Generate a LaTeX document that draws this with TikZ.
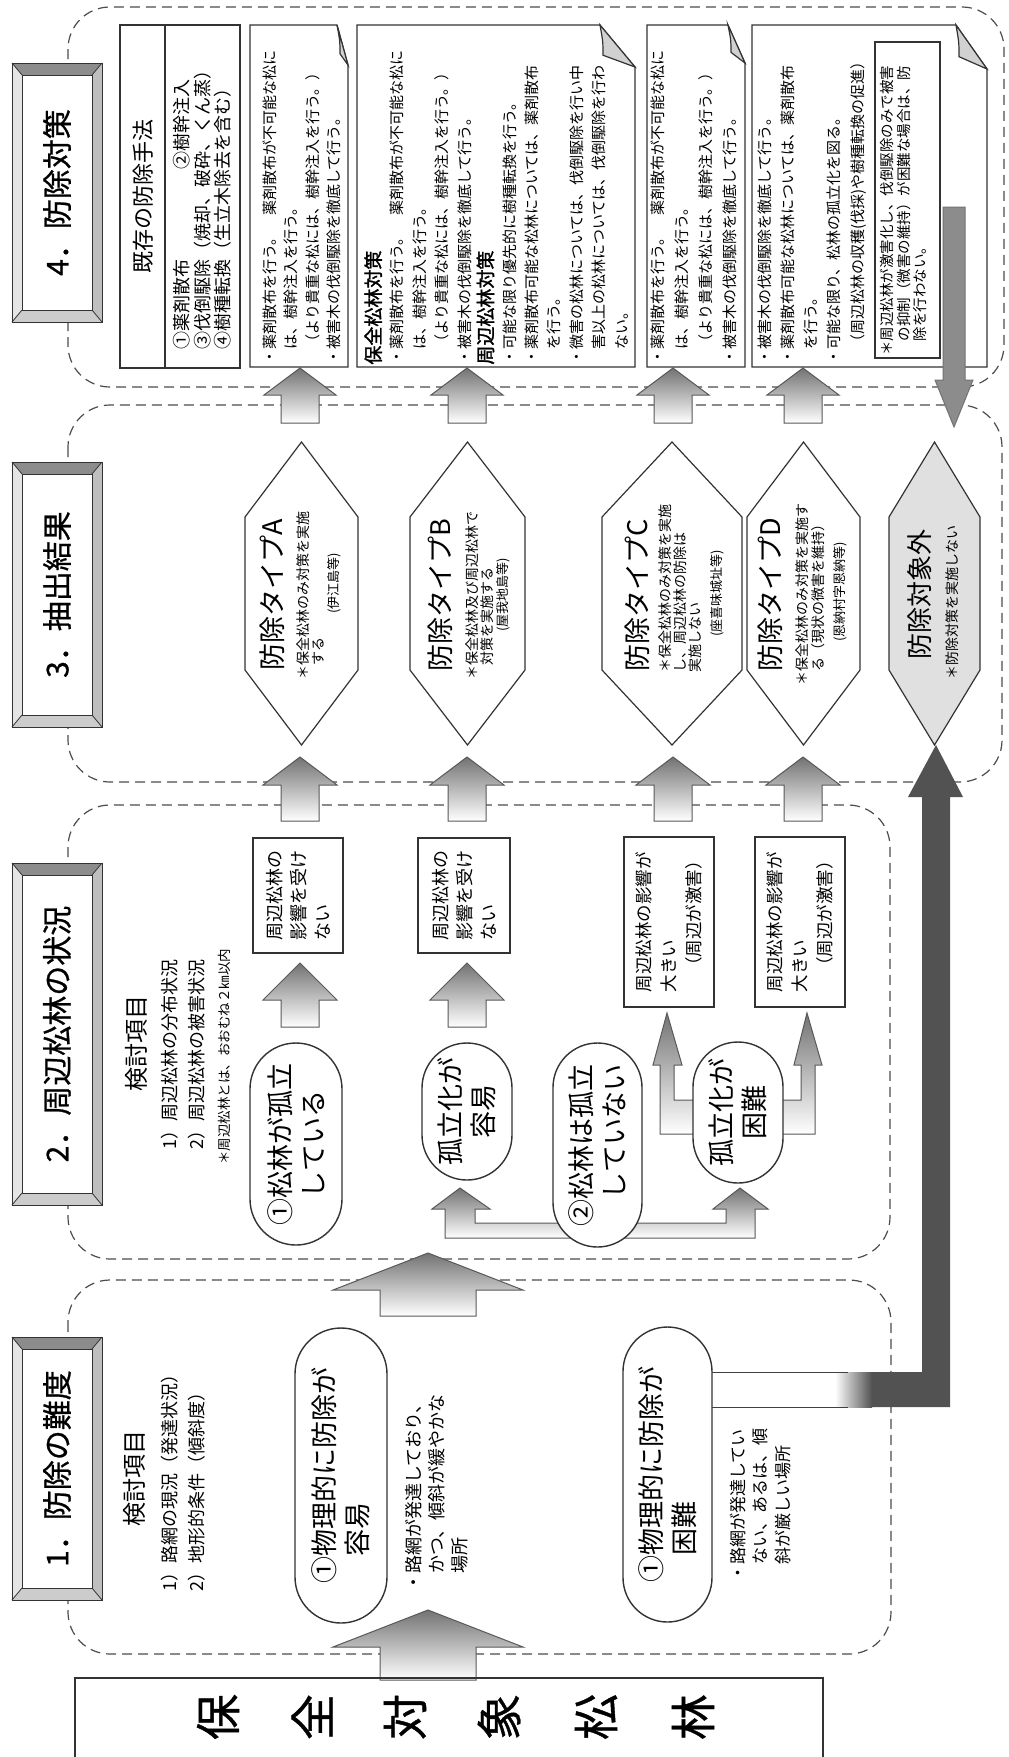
\documentclass[tikz,border=0pt]{standalone}
\usepackage{fontspec}
\setmainfont{Noto Sans CJK JP}
\newfontfamily\jpb[FakeBold=1.5]{Noto Sans CJK JP}
\newfontfamily\jpm[FakeBold=0.8]{Noto Sans CJK JP}
\usetikzlibrary{shapes.misc}
\newcommand\fz[2]{\fontsize{#1pt}{#2pt}\selectfont}
% bevelled title box: name, x1, y1, x2, y2, text
\newcommand\ttlbox[6]{%
  \fill[white] (#2,#3) rectangle (#4,#5);
  \fill[black!45] (#2,#3) -- (#4,#3) -- (#4-10,#3+12) -- (#2+10,#3+12) -- cycle;
  \fill[black!10] (#2,#3) -- (#2+10,#3+12) -- (#2+10,#5-12) -- (#2,#5) -- cycle;
  \fill[black!25] (#4,#3) -- (#4,#5) -- (#4-10,#5-12) -- (#4-10,#3+12) -- cycle;
  \fill[black!20] (#2,#5) -- (#4,#5) -- (#4-10,#5-12) -- (#2+10,#5-12) -- cycle;
  \draw[black!80, line width=0.5pt] (#2,#3) rectangle (#4,#5) (#2+10,#3+12) rectangle (#4-10,#5-12);
  \draw[black!80, line width=0.4pt] (#2,#3) -- (#2+10,#3+12) (#4,#3) -- (#4-10,#3+12) (#2,#5) -- (#2+10,#5-12) (#4,#5) -- (#4-10,#5-12);
  \node[rotate=90, inner sep=0pt, font=\jpm\fz{15}{16}] (#1) at ({(#2+#4)/2},{(#3+#5)/2}) {#6};
}
% note box with folded corner: x1, y1, x2, y2, fold w, fold h
\newcommand\notebox[6]{%
  \draw[boxline, fill=white] (#1,#2) -- (#3-#5,#2) -- (#3,#2+#6) -- (#3,#4) -- (#1,#4) -- cycle;
  \draw[boxline, fill=black!18] (#3-#5,#2) .. controls (#3-#5+3,#2+#6*0.4) .. (#3-#5+3,#2+#6*0.72) -- (#3,#2+#6) -- cycle;
}
% up block arrow: cx, tip y, head base y, bottom y, head half, shaft half
\newcommand\uparr[6]{%
  \path[blockarr] (#1,#2) -- (#1+#5,#3) -- (#1+#6,#3) -- (#1+#6,#4) -- (#1-#6,#4) -- (#1-#6,#3) -- (#1-#5,#3) -- cycle;
}
% hexagon: x1, x2, fill
\newcommand\hexa[3]{%
  \draw[boxline, fill=#3] ({(#1+#2)/2},442) -- (#2,517) -- (#2,670) -- ({(#1+#2)/2},745) -- (#1,670) -- (#1,517) -- cycle;
}
\tikzset{
  region/.style={draw=black!70, line width=0.6pt, dash pattern=on 5pt off 3pt, rounded corners=21pt},
  boxline/.style={draw=black!80, line width=0.6pt},
  blockarr/.style={draw=black!65, line width=0.5pt, top color=black!55, bottom color=white},
  vt/.style={rotate=90, inner sep=0pt, align=left},
  pill/.style={draw=black!80, line width=0.7pt, fill=white, rounded rectangle, rotate=90, inner sep=0pt, align=left, font=\fz{13.5}{16.5}},
  rbox/.style={draw=black!80, line width=0.6pt, fill=white, rotate=90, inner sep=0pt, align=left},
}
\begin{document}
\begin{tikzpicture}[x=0.5pt,y=-0.5pt]
\useasboundingbox (0,0) rectangle (1008,1757);
\fill[white] (0,0) rectangle (1008,1757);

% ---------- dashed regions ----------
\draw[region] (68,7) rectangle (1004,387);
\draw[region] (68,405) rectangle (1002,782);
\draw[region] (68,805) rectangle (890,1259);
\draw[region] (68,1280) rectangle (891,1654);

% ---------- arrows between sections ----------
\uparr{300}{368}{395}{423}{36}{19}
\uparr{467}{368}{395}{423}{36}{19}
\uparr{673}{368}{395}{423}{36}{19}
\uparr{803}{368}{395}{423}{36}{19}
\uparr{300}{757}{785}{821}{37}{19}
\uparr{467}{757}{785}{821}{37}{19}
\uparr{673}{757}{785}{821}{37}{19}
\uparr{803}{757}{785}{821}{37}{19}
\uparr{428}{1253}{1290}{1316}{95}{48}
\uparr{428}{1610}{1647}{1680}{95}{48}

% ---------- title boxes ----------
\ttlbox{t4}{12}{63}{102}{322}{4．防除対策}
\ttlbox{t3}{12}{462}{102}{727}{3．抽出結果}
\ttlbox{t2}{12}{863}{102}{1205}{2．周辺松林の状況}
\ttlbox{t1}{12}{1337}{102}{1600}{1．防除の難度}

% ---------- section 4 ----------
\draw[boxline, fill=white] (120,25) rectangle (240,368);
\draw[boxline] (165,25) -- (165,368);
\node[vt, font=\fz{11}{12}] (b1t) at (143,196) {既存の防除手法};
\node[vt, anchor=north west, font=\fz{9}{10.25}] (b1i) at (173,350)
  {①薬剤散布　　　　　②樹幹注入\\③伐倒駆除（焼却、破砕、くん蒸）\\④樹種転換（生立木除去を含む）};

\notebox{250}{25}{348}{367}{11}{40}
\node[vt, anchor=north west, font=\fz{7.5}{10.75}] (b2) at (262,365)
  {・薬剤散布を行う。　薬剤散布が不可能な松に\\　は、樹幹注入を行う。\\　（より貴重な松には、樹幹注入を行う。）\\・被害木の伐倒駆除を徹底して行う。};

\notebox{357}{25}{635}{367}{35}{42}
\node[vt, anchor=north west, font=\fz{7.5}{11.22}] (b3) at (364,365)
  {{\jpb\fz{9.5}{11.22}保全松林対策}\\・薬剤散布を行う。　薬剤散布が不可能な松に\\　は、樹幹注入を行う。\\　（より貴重な松には、樹幹注入を行う。）\\・被害木の伐倒駆除を徹底して行う。\\{\jpb\fz{9.5}{11.22}周辺松林対策}\\・可能な限り優先的に樹種転換を行う。\\・薬剤散布可能な松林については、薬剤散布\\　を行う。\\・微害の松林については、伐倒駆除を行い中\\　害以上の松林については、伐倒駆除を行わ\\　ない。};

\notebox{647}{25}{745}{367}{17}{38}
\node[vt, anchor=north west, font=\fz{7.5}{12}] (b4) at (650,365)
  {・薬剤散布を行う。　薬剤散布が不可能な松に\\　は、樹幹注入を行う。\\　（より貴重な松には、樹幹注入を行う。）\\・被害木の伐倒駆除を徹底して行う。};

\notebox{752}{25}{987}{367}{31}{44}
\node[vt, anchor=north west, font=\fz{7.5}{11.65}] (b5) at (757,365)
  {・被害木の伐倒駆除を徹底して行う。\\・薬剤散布可能な松林については、薬剤散布\\　を行う。\\・可能な限り、松林の孤立化を図る。\\　（周辺松林の収穫(伐採)や樹種転換の促進）};
\node[rbox, minimum width=158pt, minimum height=32.5pt] (b5n) at (907.5,200) {};
\node[vt, anchor=north west, font=\fz{7.25}{8.25}] (b5t) at (880,356)
  {＊周辺松林が激害化し、伐倒駆除のみで被害\\　の抑制（微害の維持）が困難な場合は、防\\　除を行わない。};

% down arrow to "防除対象外"
\path[draw=black!55, line width=0.5pt, left color=black!45, middle color=black!15, right color=black!45]
  (943,207) -- (965,207) -- (965,380) -- (973,380) -- (954,427) -- (935,380) -- (943,380) -- cycle;

% ---------- section 3 ----------
\hexa{245}{358}{white}
\hexa{410}{525}{white}
\hexa{602}{742}{white}
\hexa{747}{860}{white}
\hexa{889}{980}{black!12}
\node[vt, font=\fz{13.5}{14}] (ha) at (272,595) {防除タイプA};
\node[vt, font=\fz{13.5}{14}] (hb) at (440,595) {防除タイプB};
\node[vt, font=\fz{13.5}{14}] (hc) at (637,595) {防除タイプC};
\node[vt, font=\fz{13.5}{14}] (hd) at (770,595) {防除タイプD};
\node[vt, font=\fz{13}{14}] (he) at (920,594) {防除対象外};
\node[vt, anchor=north, font=\fz{7}{7.5}] (na) at (296,595) {＊保全松林のみ対策を実施\\　する};
\node[vt, anchor=north, font=\fz{7}{7.75}] (nb) at (465,595) {＊保全松林及び周辺松林で\\　対策を実施する};
\node[vt, anchor=north, font=\fz{7}{7.5}] (nc) at (658,588) {＊保全松林のみ対策を実施\\し、周辺松林の防除は\\実施しない};
\node[vt, anchor=north, font=\fz{7}{8}] (nd) at (795,594) {＊保全松林のみ対策を実施す\\　る（現状の微害を維持）};
\node[vt, font=\fz{7}{7.5}] (ne) at (952,602) {＊防除対策を実施しない};
\node[vt, font=\fz{6.5}{7}] (pa) at (334,583) {(伊江島等)};
\node[vt, font=\fz{6.5}{7}] (pb) at (503,595) {(屋我地島等)};
\node[vt, font=\fz{6.5}{7}] (pc) at (717,593) {(座喜味城址等)};
\node[vt, font=\fz{6.5}{7}] (pd) at (840,592) {(恩納村字恩納等)};

% ---------- section 2 ----------
\node[vt, font=\fz{12}{13}] (k2) at (136,1043) {検討項目};
\node[vt, anchor=north west, font=\fz{9}{13.5}] (l2) at (161,1150) {1）周辺松林の分布状況\\2）周辺松林の被害状況};
\node[vt, anchor=north west, font=\fz{6.75}{7.5}] (n2) at (218,1165) {＊周辺松林とは、おおむね２㎞以内};

\node[rbox, minimum width=57.5pt, minimum height=45pt, font=\fz{9}{12}] (s2a) at (298,895.5) {周辺松林の\\影響を受け\\ない};
\node[rbox, minimum width=57.5pt, minimum height=46pt, font=\fz{9}{12}] (s2b) at (464,895.5) {周辺松林の\\影響を受け\\ない};
\node[rbox, minimum width=85pt, minimum height=45pt, font=\fz{8.75}{12.5}] (s2c) at (669,922) {周辺松林の影響が\\大きい\\　（周辺が激害）};
\node[rbox, minimum width=85pt, minimum height=45pt, font=\fz{8.75}{12.5}] (s2d) at (800,922) {周辺松林の影響が\\大きい\\　（周辺が激害）};

\uparr{300}{963}{1000}{1027}{37}{19}
\uparr{467}{963}{1000}{1027}{37}{19}

% U-shaped arrow from (2) to both pills
\path[blockarr] (460,1188) -- (490,1209) -- (475,1209) -- (475,1223) -- (726,1223) -- (726,1209) -- (713,1209) -- (740,1188) -- (768,1209) -- (755,1209) -- (755,1238) -- (445,1238) -- (445,1209) -- (432,1209) -- cycle;
% forked arrow from "孤立化が困難"
\path[blockarr] (667,1013) -- (682,1065) -- (674,1065) -- (674,1100) -- (801,1100) -- (801,1065) -- (794,1065) -- (807,1013) -- (822,1065) -- (815,1065) -- (815,1134) -- (660,1134) -- (660,1065) -- (653,1065) -- cycle;

\node[pill, minimum width=101pt, minimum height=46pt] (p1) at (296,1144) {①松林が孤立\\　している};
\node[pill, minimum width=68.5pt, minimum height=45pt, align=center] (p2) at (467,1111.5) {孤立化が\\容易};
\node[pill, minimum width=102pt, minimum height=44.5pt] (p3) at (597.5,1145) {②松林は孤立\\　していない};
\node[pill, minimum width=70.5pt, minimum height=45pt, align=center] (p4) at (738,1112.5) {孤立化が\\困難};

% ---------- section 1 ----------
\node[vt, font=\fz{12}{13}] (k1) at (134,1478) {検討項目};
\node[vt, anchor=north west, font=\fz{9}{13.5}] (l1) at (161,1592) {1）路網の現況（発達状況）\\2）地形的条件（傾斜度）};

% dark arrow to "防除対象外"
\fill[black!68] (712,1372) -- (922,1372) -- (922,797) -- (908,797) -- (936,745) -- (963,797) -- (950,797) -- (950,1407) -- (712,1407) -- cycle;
\fill[white] (712,1372) rectangle (836,1407);
\shade[left color=white, right color=black!68] (835,1372) rectangle (872,1407);
\draw[black!75, line width=0.5pt] (712,1372) -- (848,1372) (712,1407) -- (848,1407);

\node[pill, minimum width=147.5pt, minimum height=46pt] (q1) at (341,1475.5) {①物理的に防除が\\　容易};
\node[pill, minimum width=147.5pt, minimum height=44.5pt] (q2) at (667.5,1474.5) {①物理的に防除が\\　困難};
\node[vt, anchor=north west, font=\fz{9}{11.5}] (q1t) at (405,1592) {・路網が発達しており、\\　かつ、傾斜が緩やかな\\　場所};
\node[vt, anchor=north west, font=\fz{8.5}{11.25}] (q2t) at (729.5,1582) {・路網が発達してい\\　ない、あるは、傾\\　斜が厳しい場所};

% ---------- bottom box ----------
\draw[boxline] (75,1770) -- (75,1678) -- (823,1678) -- (823,1770);
\node[rotate=90, inner sep=0pt, font=\jpm\fz{23}{24}] (c1) at (218,1717) {保};
\node[rotate=90, inner sep=0pt, font=\jpm\fz{23}{24}] (c2) at (312,1717) {全};
\node[rotate=90, inner sep=0pt, font=\jpm\fz{23}{24}] (c3) at (405,1717) {対};
\node[rotate=90, inner sep=0pt, font=\jpm\fz{23}{24}] (c4) at (499,1717) {象};
\node[rotate=90, inner sep=0pt, font=\jpm\fz{23}{24}] (c5) at (596,1717) {松};
\node[rotate=90, inner sep=0pt, font=\jpm\fz{23}{24}] (c6) at (693,1717) {林};
\end{tikzpicture}
\end{document}
